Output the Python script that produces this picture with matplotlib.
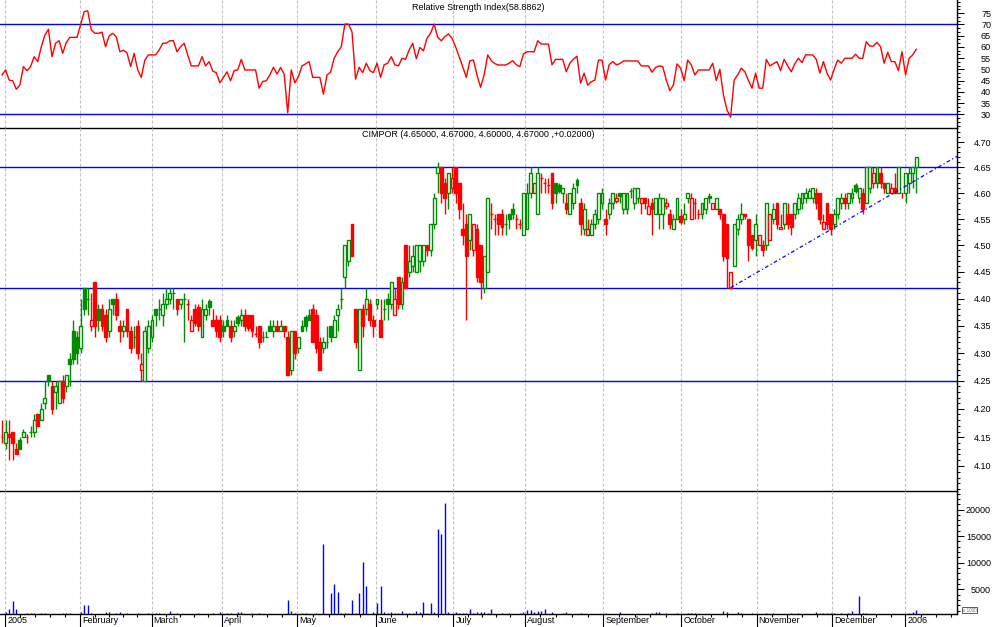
import numpy as np
import matplotlib
matplotlib.use("Agg")
import matplotlib.pyplot as plt
from matplotlib.ticker import FixedLocator, NullFormatter, FormatStrFormatter
from matplotlib.transforms import ScaledTranslation

plt.rcParams['font.family'] = ['Liberation Sans', 'DejaVu Sans']

# ---------------- data ----------------
opens = [4.15, 4.14, 4.155, 4.16, 4.13, 4.145, 4.15, 4.15, 4.16, 4.16,
         4.19, 4.18, 4.21, 4.26, 4.24, 4.23, 4.21, 4.25, 4.24, 4.29,
         4.34, 4.33, 4.31, 4.42, 4.40, 4.35, 4.43, 4.38, 4.38, 4.37,
         4.34, 4.40, 4.40, 4.35, 4.34, 4.38, 4.34, 4.33, 4.35, 4.27,
         4.25, 4.31, 4.33, 4.38, 4.38, 4.37, 4.39, 4.40, 4.41, 4.40,
         4.39, 4.40, 4.39, 4.34, 4.38, 4.385, 4.33, 4.37, 4.395, 4.36,
         4.36, 4.36, 4.35, 4.36, 4.35, 4.34, 4.365, 4.36, 4.37, 4.37,
         4.37, 4.335, 4.35, 4.33, 4.33, 4.35, 4.34, 4.35, 4.34, 4.35,
         4.33, 4.27, 4.34, 4.31, 4.35, 4.365, 4.37, 4.38, 4.37, 4.32,
         4.31, 4.32, 4.35, 4.33, 4.37, 4.40, 4.44, 4.47, 4.54, 4.38,
         4.27, 4.38, 4.38, 4.39, 4.36, 4.39, 4.36, 4.38, 4.40, 4.39,
         4.37, 4.44, 4.39, 4.50, 4.45, 4.46, 4.45, 4.47, 4.47, 4.50,
         4.49, 4.54, 4.64, 4.65, 4.62, 4.60, 4.61, 4.65, 4.62, 4.53,
         4.54, 4.51, 4.49, 4.53, 4.50, 4.42, 4.45, 4.56, 4.55, 4.56,
         4.56, 4.54, 4.56, 4.57, 4.55, 4.54, 4.52, 4.53, 4.60, 4.60,
         4.56, 4.63, 4.62, 4.615, 4.64, 4.62, 4.615, 4.60, 4.58, 4.56,
         4.58, 4.625, 4.58, 4.53, 4.52, 4.52, 4.54, 4.55, 4.58, 4.55,
         4.56, 4.58, 4.585, 4.60, 4.57, 4.57, 4.605, 4.58, 4.59, 4.58,
         4.59, 4.56, 4.58, 4.56, 4.56, 4.56, 4.575, 4.56, 4.53, 4.55,
         4.555, 4.55, 4.59, 4.55, 4.58, 4.56, 4.56, 4.57, 4.595, 4.57,
         4.57, 4.57, 4.56, 4.54, 4.42, 4.46, 4.53, 4.55, 4.56, 4.55,
         4.52, 4.51, 4.50, 4.50, 4.50, 4.51, 4.55, 4.58, 4.53, 4.54,
         4.56, 4.56, 4.56, 4.57, 4.58, 4.59, 4.59, 4.59, 4.60, 4.60,
         4.53, 4.58, 4.56, 4.54, 4.56, 4.58, 4.59, 4.58, 4.59, 4.615,
         4.59, 4.60, 4.58, 4.61, 4.62, 4.62, 4.64, 4.62, 4.60, 4.60,
         4.61, 4.60, 4.60, 4.60, 4.62, 4.64, 4.65]

highs = [4.18, 4.18, 4.18, 4.16, 4.14, 4.15, 4.165, 4.155, 4.17, 4.19,
         4.19, 4.21, 4.25, 4.26, 4.25, 4.25, 4.25, 4.26, 4.26, 4.30,
         4.36, 4.34, 4.40, 4.42, 4.42, 4.41, 4.43, 4.39, 4.39, 4.38,
         4.40, 4.40, 4.41, 4.36, 4.36, 4.38, 4.35, 4.35, 4.36, 4.30,
         4.35, 4.36, 4.37, 4.38, 4.40, 4.41, 4.42, 4.42, 4.42, 4.40,
         4.40, 4.41, 4.40, 4.37, 4.39, 4.39, 4.40, 4.39, 4.40, 4.38,
         4.37, 4.37, 4.36, 4.37, 4.36, 4.36, 4.37, 4.38, 4.38, 4.37,
         4.37, 4.35, 4.35, 4.34, 4.34, 4.36, 4.36, 4.36, 4.36, 4.35,
         4.34, 4.34, 4.34, 4.33, 4.36, 4.37, 4.38, 4.39, 4.38, 4.33,
         4.33, 4.35, 4.35, 4.37, 4.39, 4.42, 4.50, 4.51, 4.54, 4.38,
         4.38, 4.39, 4.42, 4.40, 4.37, 4.40, 4.40, 4.40, 4.41, 4.43,
         4.42, 4.44, 4.44, 4.50, 4.50, 4.50, 4.50, 4.50, 4.50, 4.50,
         4.54, 4.60, 4.66, 4.65, 4.63, 4.64, 4.65, 4.65, 4.62, 4.58,
         4.56, 4.56, 4.54, 4.54, 4.50, 4.48, 4.59, 4.58, 4.56, 4.56,
         4.57, 4.56, 4.56, 4.58, 4.56, 4.55, 4.60, 4.62, 4.65, 4.62,
         4.65, 4.64, 4.63, 4.63, 4.64, 4.62, 4.62, 4.61, 4.60, 4.60,
         4.62, 4.63, 4.59, 4.58, 4.55, 4.55, 4.57, 4.60, 4.61, 4.57,
         4.59, 4.60, 4.60, 4.60, 4.60, 4.60, 4.61, 4.61, 4.61, 4.59,
         4.59, 4.59, 4.59, 4.59, 4.60, 4.59, 4.59, 4.57, 4.56, 4.59,
         4.57, 4.58, 4.60, 4.60, 4.59, 4.57, 4.58, 4.59, 4.60, 4.58,
         4.59, 4.57, 4.56, 4.54, 4.45, 4.54, 4.56, 4.58, 4.56, 4.55,
         4.52, 4.56, 4.52, 4.51, 4.58, 4.56, 4.58, 4.58, 4.56, 4.58,
         4.58, 4.56, 4.58, 4.60, 4.60, 4.61, 4.61, 4.61, 4.61, 4.60,
         4.56, 4.58, 4.56, 4.57, 4.59, 4.60, 4.60, 4.60, 4.61, 4.62,
         4.61, 4.61, 4.65, 4.65, 4.65, 4.65, 4.65, 4.62, 4.62, 4.62,
         4.64, 4.65, 4.60, 4.64, 4.65, 4.65, 4.67]

lows = [4.14, 4.13, 4.11, 4.11, 4.12, 4.13, 4.15, 4.14, 4.15, 4.15,
        4.17, 4.18, 4.20, 4.24, 4.19, 4.20, 4.21, 4.21, 4.23, 4.24,
        4.28, 4.28, 4.30, 4.37, 4.37, 4.34, 4.33, 4.34, 4.34, 4.32,
        4.33, 4.37, 4.36, 4.32, 4.33, 4.33, 4.30, 4.31, 4.29, 4.25,
        4.25, 4.30, 4.32, 4.35, 4.36, 4.35, 4.38, 4.39, 4.38, 4.37,
        4.38, 4.32, 4.36, 4.34, 4.35, 4.34, 4.33, 4.36, 4.37, 4.35,
        4.33, 4.32, 4.33, 4.35, 4.32, 4.33, 4.35, 4.35, 4.34, 4.34,
        4.33, 4.33, 4.31, 4.32, 4.33, 4.34, 4.33, 4.34, 4.34, 4.33,
        4.26, 4.26, 4.29, 4.30, 4.34, 4.34, 4.36, 4.32, 4.30, 4.27,
        4.30, 4.31, 4.32, 4.33, 4.34, 4.38, 4.42, 4.46, 4.48, 4.31,
        4.27, 4.33, 4.37, 4.35, 4.33, 4.38, 4.33, 4.36, 4.36, 4.38,
        4.37, 4.38, 4.38, 4.42, 4.44, 4.45, 4.45, 4.45, 4.46, 4.48,
        4.48, 4.53, 4.60, 4.58, 4.56, 4.57, 4.60, 4.58, 4.55, 4.50,
        4.36, 4.49, 4.48, 4.43, 4.40, 4.41, 4.45, 4.53, 4.52, 4.52,
        4.52, 4.52, 4.53, 4.55, 4.53, 4.53, 4.52, 4.53, 4.59, 4.60,
        4.56, 4.60, 4.60, 4.60, 4.57, 4.58, 4.60, 4.58, 4.56, 4.56,
        4.57, 4.60, 4.52, 4.52, 4.52, 4.52, 4.53, 4.54, 4.57, 4.52,
        4.55, 4.57, 4.58, 4.58, 4.56, 4.56, 4.59, 4.57, 4.58, 4.56,
        4.57, 4.56, 4.52, 4.56, 4.53, 4.53, 4.57, 4.53, 4.53, 4.55,
        4.54, 4.54, 4.58, 4.55, 4.55, 4.55, 4.55, 4.56, 4.58, 4.57,
        4.57, 4.55, 4.47, 4.42, 4.42, 4.46, 4.52, 4.54, 4.55, 4.47,
        4.49, 4.48, 4.50, 4.48, 4.49, 4.51, 4.54, 4.53, 4.53, 4.53,
        4.53, 4.52, 4.55, 4.56, 4.57, 4.58, 4.59, 4.58, 4.57, 4.54,
        4.53, 4.53, 4.52, 4.53, 4.55, 4.57, 4.57, 4.57, 4.58, 4.60,
        4.58, 4.56, 4.58, 4.60, 4.61, 4.61, 4.61, 4.60, 4.60, 4.60,
        4.60, 4.60, 4.59, 4.58, 4.60, 4.61, 4.60]

closes = [4.15, 4.16, 4.15, 4.14, 4.12, 4.13, 4.16, 4.15, 4.16, 4.18,
          4.17, 4.20, 4.22, 4.25, 4.20, 4.24, 4.25, 4.22, 4.26, 4.28,
          4.29, 4.30, 4.35, 4.38, 4.40, 4.36, 4.35, 4.36, 4.35, 4.33,
          4.38, 4.39, 4.37, 4.34, 4.35, 4.34, 4.31, 4.33, 4.30, 4.28,
          4.34, 4.35, 4.36, 4.37, 4.38, 4.39, 4.40, 4.41, 4.41, 4.38,
          4.40, 4.40, 4.39, 4.36, 4.355, 4.35, 4.38, 4.38, 4.385, 4.35,
          4.34, 4.33, 4.34, 4.35, 4.33, 4.35, 4.355, 4.37, 4.35, 4.345,
          4.34, 4.335, 4.32, 4.33, 4.33, 4.34, 4.35, 4.34, 4.35, 4.34,
          4.26, 4.34, 4.30, 4.33, 4.34, 4.35, 4.36, 4.32, 4.31, 4.27,
          4.32, 4.32, 4.33, 4.36, 4.38, 4.40, 4.50, 4.51, 4.48, 4.32,
          4.38, 4.35, 4.40, 4.36, 4.35, 4.40, 4.33, 4.38, 4.39, 4.43,
          4.40, 4.39, 4.43, 4.42, 4.47, 4.48, 4.50, 4.50, 4.50, 4.49,
          4.54, 4.59, 4.65, 4.60, 4.59, 4.64, 4.63, 4.60, 4.57, 4.52,
          4.48, 4.56, 4.54, 4.44, 4.43, 4.48, 4.59, 4.56, 4.55, 4.54,
          4.535, 4.54, 4.55, 4.56, 4.55, 4.54, 4.60, 4.60, 4.64, 4.62,
          4.64, 4.63, 4.62, 4.615, 4.58, 4.60, 4.605, 4.61, 4.57, 4.60,
          4.61, 4.615, 4.54, 4.57, 4.53, 4.54, 4.56, 4.60, 4.60, 4.54,
          4.58, 4.60, 4.59, 4.595, 4.60, 4.60, 4.605, 4.61, 4.61, 4.59,
          4.58, 4.575, 4.57, 4.59, 4.59, 4.59, 4.58, 4.54, 4.55, 4.59,
          4.545, 4.56, 4.60, 4.59, 4.58, 4.56, 4.58, 4.59, 4.59, 4.58,
          4.59, 4.56, 4.48, 4.475, 4.45, 4.54, 4.55, 4.56, 4.555, 4.50,
          4.495, 4.54, 4.52, 4.49, 4.58, 4.56, 4.57, 4.54, 4.535, 4.58,
          4.54, 4.535, 4.58, 4.59, 4.60, 4.60, 4.605, 4.61, 4.58, 4.55,
          4.545, 4.54, 4.53, 4.56, 4.59, 4.59, 4.58, 4.60, 4.60, 4.605,
          4.61, 4.57, 4.65, 4.65, 4.64, 4.65, 4.62, 4.61, 4.62, 4.61,
          4.60, 4.65, 4.60, 4.64, 4.64, 4.65, 4.67]

rsi = [47.5, 49.7, 45.2, 44.9, 41.1, 43.0, 51.2, 49.4, 51.2, 55.6,
       53.4, 60.0, 65.2, 67.8, 55.6, 61.6, 62.7, 57.1, 61.9, 64.2,
       64.2, 64.2, 69.7, 75.6, 76.0, 67.5, 66.0, 66.0, 66.5, 60.0,
       64.8, 66.0, 64.4, 57.8, 58.5, 57.3, 51.2, 57.1, 49.7, 46.4,
       54.1, 56.4, 56.4, 56.4, 58.5, 61.6, 61.6, 62.7, 62.7, 57.8,
       60.0, 61.6, 56.4, 51.5, 51.5, 51.5, 55.6, 51.5, 53.4, 49.2,
       48.5, 44.0, 46.4, 48.9, 44.9, 49.4, 49.7, 54.4, 49.7, 49.7,
       49.7, 49.7, 41.6, 44.6, 44.9, 47.5, 50.9, 47.9, 50.8, 47.9,
       30.7, 49.7, 44.0, 46.7, 51.5, 52.4, 53.4, 46.4, 46.4, 46.4,
       38.9, 47.5, 48.7, 54.9, 57.8, 60.0, 70.1, 70.1, 66.7, 45.6,
       50.9, 48.5, 52.7, 49.4, 48.5, 52.7, 46.4, 52.0, 52.7, 55.6,
       52.0, 51.5, 54.9, 54.4, 58.6, 61.6, 54.7, 59.7, 58.2, 63.8,
       66.0, 70.1, 64.2, 62.7, 64.5, 65.7, 63.8, 60.0, 55.6, 51.2,
       46.4, 53.8, 54.1, 47.5, 42.0, 47.5, 56.4, 53.8, 52.5, 51.9,
       51.9, 51.9, 52.7, 53.8, 52.0, 51.2, 56.8, 57.8, 57.8, 57.8,
       62.7, 61.2, 61.2, 61.2, 52.0, 54.4, 54.4, 54.4, 48.9, 52.7,
       54.5, 55.8, 43.8, 48.3, 42.9, 44.5, 45.2, 54.1, 54.1, 45.2,
       52.0, 53.4, 52.0, 52.5, 53.7, 53.7, 53.7, 53.7, 53.7, 51.5,
       51.5, 51.5, 48.7, 50.8, 51.5, 51.2, 45.2, 40.5, 43.0, 52.4,
       50.5, 45.0, 54.1, 52.0, 47.5, 49.7, 49.7, 49.7, 49.7, 52.7,
       45.0, 50.0, 38.6, 31.9, 28.7, 45.2, 47.5, 50.5, 48.9, 45.0,
       41.6, 48.3, 41.6, 41.6, 54.4, 51.5, 52.5, 53.4, 49.4, 54.4,
       51.5, 48.9, 52.5, 54.9, 53.0, 56.4, 56.4, 56.4, 54.4, 48.3,
       53.4, 48.3, 45.2, 50.0, 54.1, 52.7, 54.9, 54.9, 54.9, 56.7,
       54.9, 54.9, 62.3, 60.3, 60.3, 62.0, 60.0, 52.7, 57.6, 53.4,
       53.4, 49.4, 57.8, 47.5, 54.9, 56.4, 58.8862]

vol_day = [1, 2, 3, 4, 7, 8, 9, 11, 12, 17, 18, 19, 22, 23, 24, 25, 29, 30, 32, 33,
           35, 38, 41, 43, 44, 47, 49, 55, 59, 61, 63, 64, 66, 67, 70, 72, 80, 81, 82, 84,
           85, 88, 90, 92, 93, 94, 95, 96, 97, 98, 99, 100, 101, 102, 104, 105, 106, 107, 108, 109,
           110, 111, 112, 113, 114, 115, 116, 117, 118, 119, 120, 121, 122, 123, 124, 125, 127, 128, 129, 130,
           131, 132, 133, 134, 135, 136, 137, 140, 142, 145, 146, 147, 148, 149, 150, 151, 152, 154, 157, 158,
           162, 169, 173, 182, 183, 184, 186, 189, 192, 193, 194, 202, 203, 206, 207, 210, 214, 216, 221, 223,
           228, 229, 230, 231, 232, 233, 235, 237, 238, 240, 241, 242, 254, 255, 256]
vol_val = [790, 1300, 2800, 1300, 490, 490, 490, 490, 490, 490, 490, 490, 790, 2050, 2050, 490, 790, 790, 490, 790,
           490, 490, 600, 490, 490, 920, 490, 490, 490, 790, 600, 600, 790, 790, 600, 600, 2990, 920, 490, 600,
           600, 490, 13520, 4250, 6000, 4550, 600, 490, 490, 2990, 490, 4360, 10190, 5620, 790, 2370, 5620, 790, 490, 790,
           490, 490, 920, 490, 490, 490, 920, 790, 2610, 490, 2480, 790, 16340, 15400, 21280, 790, 790, 600, 600, 600,
           1300, 490, 790, 790, 790, 490, 1300, 490, 490, 600, 790, 1110, 1110, 790, 920, 920, 1240, 790, 490, 790,
           490, 490, 790, 600, 790, 790, 490, 490, 490, 490, 490, 980, 790, 790, 490, 490, 490, 490, 490, 490,
           790, 600, 600, 600, 600, 490, 490, 600, 980, 3740, 600, 490, 600, 790, 1110]

month_labels = ["2005", "February", "March", "April", "May", "June", "July",
                "August", "September", "October", "November", "December", "2006"]
month_pos = [0.92, 21.9, 41.9, 61.7, 82.7, 104.6, 126.4, 146.3, 168.4, 190.2, 211.3, 232.4, 252.9]

rsi_levels = [70, 30]
price_levels = [4.65, 4.42, 4.25]
trend_x = [204, 267.4]
trend_y = [4.42, 4.672]

rsi_title = "Relative Strength Index(58.8862)"
price_title = "CIMPOR (4.65000, 4.67000, 4.60000, 4.67000 ,+0.02000)"

# ---------------- figure ----------------
W, H = 994, 627
DPI = 100
fig = plt.figure(figsize=(W / DPI, H / DPI), dpi=DPI)
fig.patch.set_facecolor('white')

PLOT_R = 957


def rect(top, bottom):
    return [0, 1 - bottom / H, PLOT_R / W, (bottom - top) / H]


ax_r = fig.add_axes(rect(0, 128))
ax_p = fig.add_axes(rect(128, 491))
ax_v = fig.add_axes(rect(491, 614))

XMIN, XMAX = -0.56, 267.4
GREEN = '#008c00'
RED = '#ff0000'
BLUE = '#0000ff'
GRID = '#c0c0c0'
FS = 6.5

for ax in (ax_r, ax_p, ax_v):
    ax.set_xlim(XMIN, XMAX)
    ax.patch.set_visible(False)
    ax.spines['left'].set_visible(False)
    ax.spines['top'].set_visible(False)
    ax.spines['right'].set_color('black')
    ax.spines['bottom'].set_color('black')
    ax.spines['right'].set_linewidth(1.0)
    ax.spines['bottom'].set_linewidth(1.0)
    ax.spines['right'].set_zorder(6)
    ax.spines['bottom'].set_zorder(6)
    ax.yaxis.tick_right()
    ax.tick_params(axis='y', which='major', direction='out', length=5, width=0.75,
                   colors='black', labelsize=FS, pad=19.5)
    ax.tick_params(axis='y', which='minor', direction='out', length=2.5, width=0.75, colors='black')
    for m in month_pos:
        ax.axvline(m, color=GRID, lw=0.8, ls=(0, (2.7, 1.8)), zorder=0)

for ax in (ax_r, ax_p):
    ax.tick_params(axis='x', which='both', bottom=False, labelbottom=False)

# ---------------- RSI panel ----------------
days = np.arange(len(closes))
ax_r.set_ylim(23.9, 80.8)
for lv in rsi_levels:
    ax_r.axhline(lv, color=BLUE, lw=1.0, zorder=1)
ax_r.plot(days, rsi, color=RED, lw=1.0, zorder=3)
ax_r.yaxis.set_major_locator(FixedLocator(np.arange(30, 76, 5)))
ax_r.yaxis.set_minor_locator(FixedLocator(np.arange(25, 81, 5 / 3)))
ax_r.yaxis.set_major_formatter(FormatStrFormatter('%d'))
ax_r.yaxis.set_minor_formatter(NullFormatter())
ax_r.text(0.5, 1 - 2.5 / 128, rsi_title, transform=ax_r.transAxes, ha='center', va='top', fontsize=FS)

# ---------------- price panel ----------------
ax_p.set_yscale('log')
ax_p.set_ylim(4.057, 4.728)
for lv in price_levels:
    ax_p.axhline(lv, color=BLUE, lw=1.0, zorder=1)

o = np.array(opens)
h = np.array(highs)
l = np.array(lows)
c = np.array(closes)
prev = np.concatenate([[o[0]], c[:-1]])
cols = [GREEN if c[i] > prev[i] or (i > 0 and c[i] == prev[i]) else RED for i in range(len(c))]
faces = ['white' if c[i] > o[i] else cols[i] for i in range(len(c))]
bottoms = np.minimum(o, c)
heights = np.abs(c - o)

ax_p.vlines(days, l, h, colors=cols, lw=1.0, zorder=2)
ax_p.bar(days, heights, bottom=bottoms, width=0.8, color=faces, edgecolor=cols, linewidth=1.0, zorder=3)
ax_p.plot(trend_x, trend_y, color=BLUE, lw=0.9, ls=(0, (3, 2, 1, 2)), zorder=4)

ax_p.yaxis.set_major_locator(FixedLocator(np.round(np.arange(4.10, 4.701, 0.05), 2)))
ax_p.yaxis.set_minor_locator(FixedLocator(np.round(np.arange(4.06, 4.73, 0.01), 2)))
ax_p.yaxis.set_major_formatter(FormatStrFormatter('%.2f'))
ax_p.yaxis.set_minor_formatter(NullFormatter())
ax_p.text(0.5, 1 - 2 / 363, price_title, transform=ax_p.transAxes, ha='center', va='top', fontsize=FS)

# ---------------- volume panel ----------------
ax_v.set_ylim(357, 23480)
ax_v.vlines(vol_day, 0, vol_val, colors=BLUE, lw=1.0, zorder=3)
ax_v.yaxis.set_major_locator(FixedLocator([5000, 10000, 15000, 20000]))
ax_v.yaxis.set_minor_locator(FixedLocator(np.arange(1000, 23001, 1000)))
ax_v.yaxis.set_major_formatter(FormatStrFormatter('%d'))
ax_v.yaxis.set_minor_formatter(NullFormatter())

# x axis: month labels and weekly minor ticks
minor_x = []
for k, m in enumerate(month_pos):
    if k + 1 < len(month_pos):
        nxt = month_pos[k + 1]
        step = (nxt - m) / 5
        minor_x += [m + step * j for j in range(1, 5)]
    else:
        t = m + 4.4
        while t < XMAX:
            minor_x.append(t)
            t += 4.2
ax_v.set_xticks(month_pos)
ax_v.set_xticklabels(month_labels)
ax_v.xaxis.set_minor_locator(FixedLocator(minor_x))
ax_v.tick_params(axis='x', which='major', direction='out', length=9.4, width=0.8,
                 colors='black', labelsize=FS, pad=-8.2)
ax_v.tick_params(axis='x', which='minor', direction='out', length=2.2, width=0.8, colors='black')
off = ScaledTranslation(2 / DPI, 0, fig.dpi_scale_trans)
for lbl in ax_v.get_xticklabels():
    lbl.set_horizontalalignment('left')
    lbl.set_transform(lbl.get_transform() + off)

for ax in (ax_r, ax_p, ax_v):
    for lbl in ax.get_yticklabels():
        lbl.set_horizontalalignment('right')

fig.text(969.5 / W, 1 - 610 / H, "x 1000", fontsize=3.3, color='#707070', ha='center', va='center',
         bbox=dict(boxstyle='square,pad=0.2', fc='white', ec='#404040', lw=0.6))

fig.savefig('out.png', dpi=DPI)
